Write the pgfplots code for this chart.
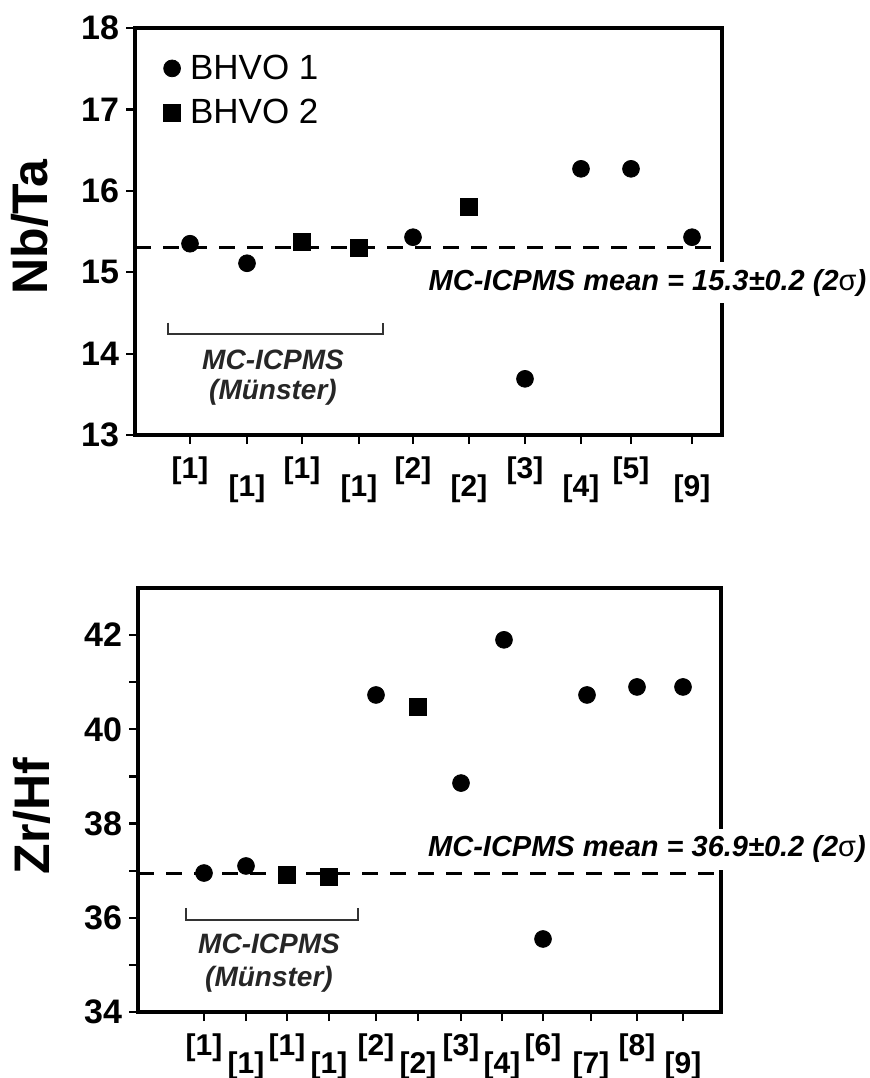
\documentclass[border=0pt]{standalone}
\usepackage{fontspec}
\setmainfont{Liberation Sans}
\usepackage{pgfplots}
\pgfplotsset{compat=1.18}
\newcommand{\lo}[1]{\rule{0pt}{19.5bp}#1}
\begin{document}
\begin{tikzpicture}
\useasboundingbox (0,0) rectangle (435bp,-539bp);
\pgfplotsset{
  common/.style={
    scale only axis, clip=false, anchor=south west,
    axis line style={line width=1.6bp},
    every tick/.style={line width=1.1bp, black},
    major tick length=4.5bp, minor tick length=4.5bp,
    tick align=outside, tick pos=left,
    xticklabel style={font=\bfseries\fontsize{15bp}{15bp}\selectfont, yshift=-3bp},
    yticklabel style={font=\bfseries\fontsize{17bp}{17bp}\selectfont},
    /pgf/number format/assume math mode=true,
  },
  c1/.style={only marks, mark=*, mark size=4.2bp, black},
  c2/.style={only marks, mark=square*, mark size=4.2bp, black},
  meanline/.style={black, line width=1.5bp, dash pattern=on 8bp off 6bp, forget plot},
}
\tikzset{
  note/.style={font=\bfseries\itshape\fontsize{14bp}{15bp}\selectfont, align=center, text=black!85},
  meantext/.style={fill=white, inner xsep=1bp, inner ysep=3.5bp, font=\bfseries\itshape\fontsize{14.5bp}{14.5bp}\selectfont},
}

% Nb/Ta panel
\begin{axis}[common, at={(67.5bp,-217.5bp)},
  width=293.5bp, height=203.5bp,
  xmin=0, xmax=587, ymin=13, ymax=18, ytick={13,...,18},
  xtick={55,112,167,224,278,334,390,446,496,557},
  xticklabels={{[1]},{\lo{[1]}},{[1]},{\lo{[1]}},{[2]},{\lo{[2]}},{[3]},{\lo{[4]}},{[5]},{\lo{[9]}}},
  legend style={draw=none, fill=none, at={(0.037,0.955)}, anchor=north west,
    font=\fontsize{17.5bp}{17.5bp}\selectfont, row sep=4.5bp},
  legend cell align=left,
  legend image code/.code={\draw[#1] plot coordinates {(0bp,0bp)};
    \path[draw=none, fill=none] (-4.5bp,0bp) rectangle (7bp,0.1bp);},
]
\addplot[meanline] coordinates {(0,15.3) (587,15.3)};
\addplot[c1] coordinates {(55,15.35) (112,15.11) (278,15.43) (390,13.69) (446,16.27) (496,16.27) (557,15.43)};
\addplot[c2] coordinates {(167,15.37) (224,15.30) (334,15.80)};
\legend{BHVO 1, BHVO 2}
\draw[line width=0.7bp, black!80] (axis cs:33,14.38) -- (axis cs:33,14.24) -- (axis cs:248,14.24) -- (axis cs:248,14.38);
\node[note] at (axis cs:138,13.71) {MC-ICPMS\\(Münster)};
\node[meantext] at (axis cs:512.5,14.87) {MC-ICPMS mean = 15.3±0.2 (2{\upshape\mdseries σ})};
\end{axis}

% Zr/Hf panel
\begin{axis}[common, at={(69bp,-506bp)},
  width=291.5bp, height=212bp,
  xmin=0, xmax=583, ymin=34, ymax=43,
  ytick={34,36,...,42}, minor ytick={35,37,...,41},
  xtick={66,108,149,191,238,280,323,364,405,453,499,545},
  xticklabels={{[1]},{\lo{[1]}},{[1]},{\lo{[1]}},{[2]},{\lo{[2]}},{[3]},{\lo{[4]}},{[6]},{\lo{[7]}},{[8]},{\lo{[9]}}},
]
\addplot[meanline] coordinates {(0,36.93) (583,36.93)};
\addplot[c1] coordinates {(66,36.95) (108,37.10) (238,40.73) (323,38.86) (366,41.90) (405,35.55) (449,40.73) (499,40.90) (545,40.90)};
\addplot[c2] coordinates {(149,36.91) (191,36.87) (280,40.48)};
\draw[line width=0.7bp, black!80] (axis cs:48,36.21) -- (axis cs:48,35.95) -- (axis cs:220,35.95) -- (axis cs:220,36.21);
\node[note, font=\bfseries\itshape\fontsize{14bp}{16.5bp}\selectfont] at (axis cs:131,35.03) {MC-ICPMS\\(Münster)};
\node[meantext] at (axis cs:509,37.45) {MC-ICPMS mean = 36.9±0.2 (2{\upshape\mdseries σ})};
\end{axis}

\node[rotate=90, font=\bfseries\fontsize{25bp}{25bp}\selectfont] at (15bp,-113.5bp) {Nb/Ta};
\node[rotate=90, font=\bfseries\fontsize{25bp}{25bp}\selectfont] at (16bp,-408bp) {Zr/Hf};
\end{tikzpicture}
\end{document}
